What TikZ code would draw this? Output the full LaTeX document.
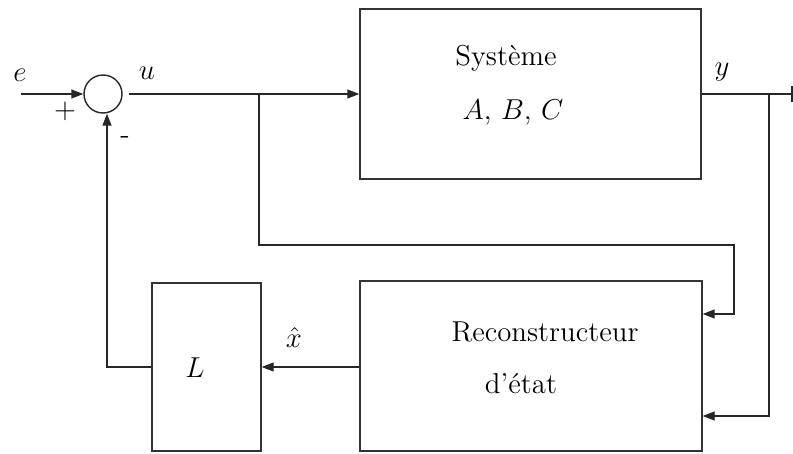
\documentclass[tikz,border=0pt]{standalone}
\usetikzlibrary{arrows.meta}
\begin{document}
\begin{tikzpicture}[x=0.5pt,y=-0.5pt,
  font=\fontsize{14.4}{17}\selectfont,
  wire/.style={line width=0.7pt,draw=black!85},
  arr/.style={wire,-{Triangle[length=6pt,width=4.5pt]}},
  blk/.style={draw=black!80,line width=0.7pt,rectangle,inner sep=0pt},
  lbl/.style={inner sep=0pt}]
\useasboundingbox (0,0) rectangle (793,454);
% blocks
\node[draw=black!85,line width=0.7pt,circle,minimum size=19pt,inner sep=0pt] (sum) at (103,94) {};
\node[blk,minimum width=170.5pt,minimum height=85pt] (sys) at (530.5,94) {};
\node[blk,minimum width=171pt,minimum height=85pt] (rec) at (531,366) {};
\node[blk,minimum width=54.5pt,minimum height=84pt] (Lb) at (206.5,367) {};
% texts
\node[lbl] (tsys) at (506,58) {Système};
\node[lbl] (tabc) at (513,112) {$A$, $B$, $C$};
\node[lbl] (trec) at (545,332) {Reconstructeur};
\node[lbl] (tetat) at (521,384) {d'état};
\node[lbl] (tL) at (195,368) {$L$};
\node[lbl] (te) at (20,75) {$e$};
\node[lbl] (tu) at (147,73) {$u$};
\node[lbl] (ty) at (722,72) {$y$};
\node[lbl] (tx) at (294,338) {$\hat{x}$};
\node[lbl] (tplus) at (65,111) {$+$};
\node[lbl] (tminus) at (125,140) {-};
% coordinates
\coordinate (ein) at (21,94);
\coordinate (yout) at (792,94);
\coordinate (bu) at (259,94);
\coordinate (by) at (769,94);
% connectors
\draw[arr] (ein) -- (sum.west);
\draw[arr] ([xshift=3pt]sum.east) -- (sys.west);
\draw[wire] (sys.east) -- (yout);
\draw[wire] ([yshift=-4pt]yout) -- ([yshift=4pt]yout);
\draw[arr] (bu) -- (259,245) -- (734,245) -- (734,314) -- (rec.east |- 0,314);
\draw[arr] (by) -- (769,416) -- (rec.east |- 0,416);
\draw[arr] (rec.west |- Lb.east) -- (Lb.east);
\draw[arr] (Lb.west) -| ([xshift=2pt]sum.south);
\end{tikzpicture}
\end{document}
